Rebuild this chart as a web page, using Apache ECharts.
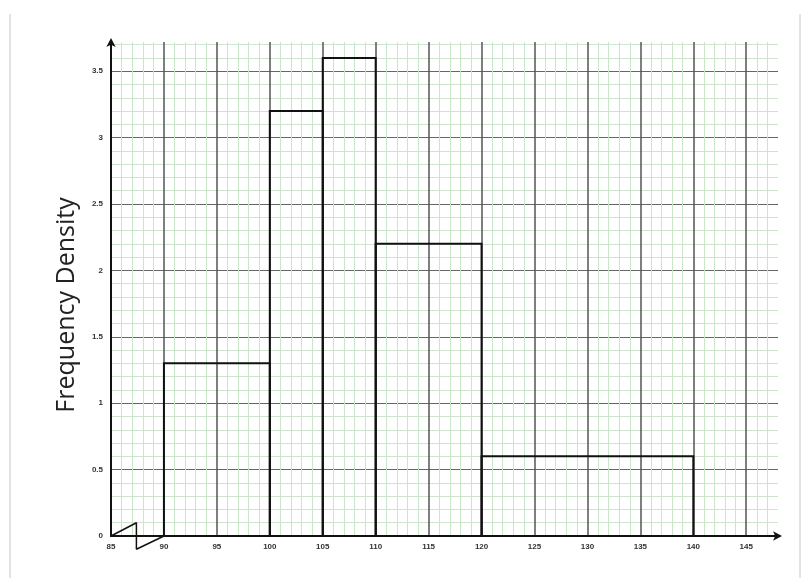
<!DOCTYPE html>
<html><head><meta charset="utf-8">
<script src="https://cdn.jsdelivr.net/npm/echarts@6/dist/echarts.min.js"></script>
<style>html,body{margin:0;padding:0;background:#fff}#c{width:805px;height:578px}</style>
</head><body><div id="c"></div>
<script>
var binStarts = [90, 100, 105, 110, 120];
var binEnds   = [100, 105, 110, 120, 140];
var densities = [1.3, 3.2, 3.6, 2.2, 0.6];
var breakX = [85, 87.4, 87.4, 90];
var breakY = [0, 0.1, -0.1, 0];

var chart = echarts.init(document.getElementById('c'));
var barData = binStarts.map(function(s, i){ return [s, binEnds[i], densities[i]]; });
var breakData = breakX.map(function(x, i){ return [x, breakY[i]]; });

chart.setOption({
  animation: false,
  grid: {left: 111, right: 27, top: 42, bottom: 42},
  graphic: [
    {type:'line', shape:{x1:10,y1:14,x2:10,y2:578}, style:{stroke:'#c8c8c8', lineWidth:1}},
    {type:'line', shape:{x1:800,y1:14,x2:800,y2:578}, style:{stroke:'#c8c8c8', lineWidth:1}}
  ],
  xAxis: {
    type: 'value', min: 85, max: 148, interval: 5,
    axisLine: {show: true, onZero: false, symbol: ['none','arrow'], symbolSize: [7, 9], symbolOffset:[0,4], lineStyle: {color: '#111', width: 2}},
    axisTick: {show: false},
    axisLabel: {fontSize: 8, color: '#333', margin: 7, showMaxLabel: false, fontWeight: 'bold'},
    splitLine: {show: true, showMaxLine: false, lineStyle: {color: '#555', width: 1.5}},
    minorTick: {show: false, splitNumber: 5},
    minorSplitLine: {show: true, lineStyle: {color: '#c9e6c9', width: 1}}
  },
  yAxis: {
    type: 'value', min: 0, max: 3.72, interval: 0.5,
    name: 'Frequency Density', nameLocation: 'middle', nameGap: 32,
    nameTextStyle: {fontSize: 25, color: '#222', fontFamily: 'Open Sans', padding: [0, 32, 0, 0]},
    axisLine: {show: true, symbol: ['none','arrow'], symbolSize: [7, 9], symbolOffset:[0,4], lineStyle: {color: '#111', width: 2}},
    axisTick: {show: false},
    axisLabel: {fontSize: 8, color: '#333', margin: 8, showMaxLabel: false, fontWeight: 'bold',
      formatter: function(v){ return String(v); }},
    splitLine: {show: true, showMaxLine: false, lineStyle: {color: '#666', width: 1.2}},
    minorTick: {show: false, splitNumber: 5},
    minorSplitLine: {show: true, lineStyle: {color: '#cfe3cf', width: 1}}
  },
  series: [
    {
      type: 'custom',
      data: barData,
      encode: {x: [0, 1], y: 2},
      renderItem: function(params, api){
        var p0 = api.coord([api.value(0), 0]);
        var p1 = api.coord([api.value(1), api.value(2)]);
        return {
          type: 'rect',
          shape: {x: p0[0], y: p1[1], width: p1[0] - p0[0], height: p0[1] - p1[1]},
          style: {fill: 'none', stroke: '#111', lineWidth: 2}
        };
      },
      z: 5
    },
    {
      type: 'line', data: breakData, symbol: 'none', clip: false,
      lineStyle: {color: '#111', width: 1.5}, z: 6, silent: true
    }
  ]
});
</script></body></html>
